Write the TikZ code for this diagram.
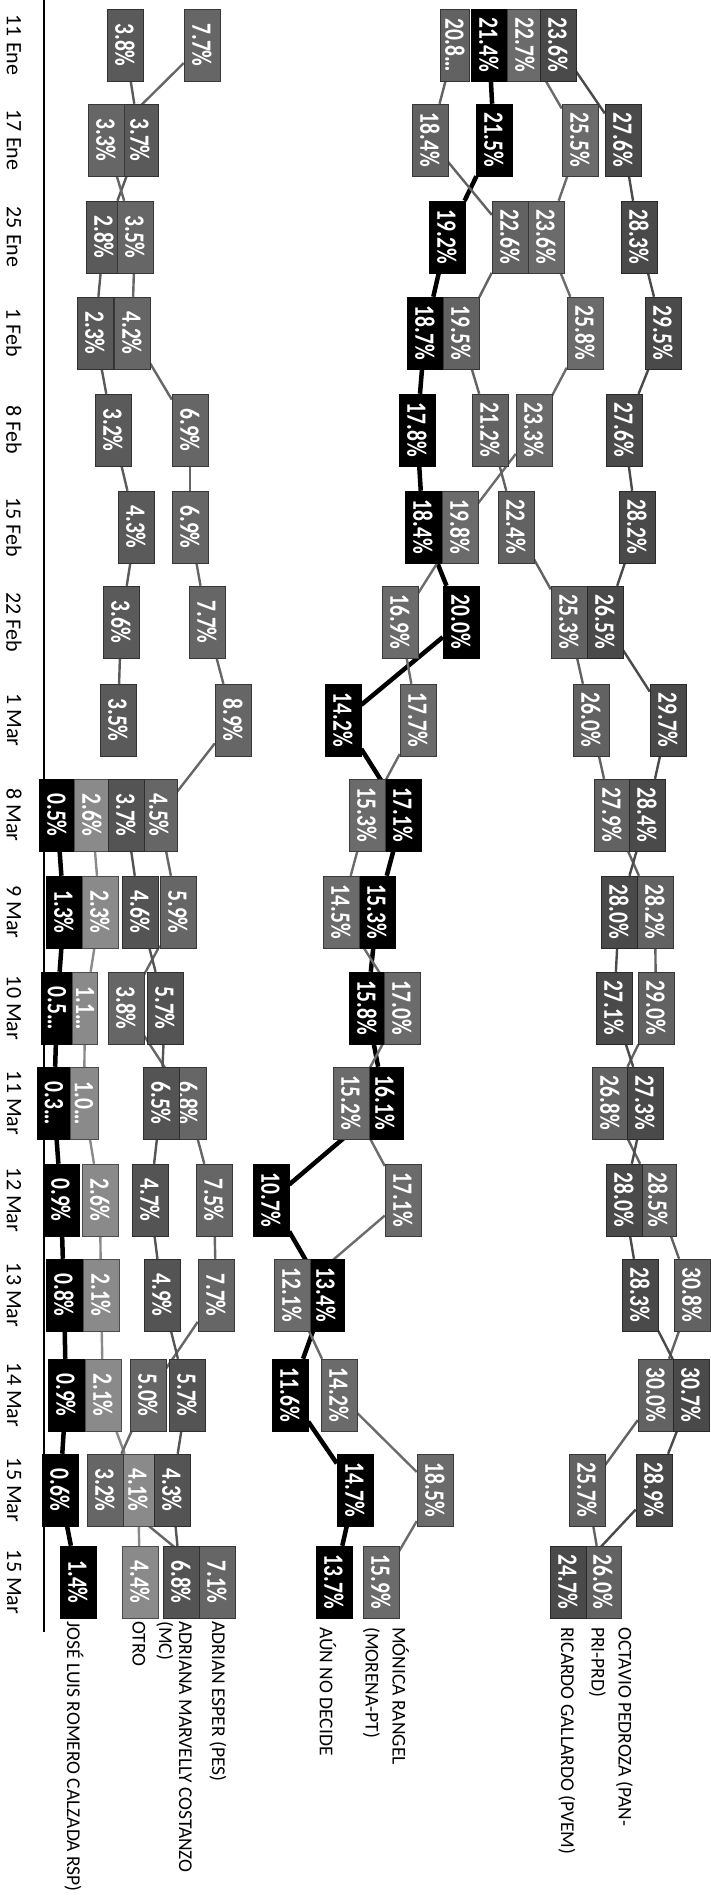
\documentclass[tikz,border=0pt]{standalone}
\usepackage{fontspec}
\setmainfont{Carlito}
\usepackage{graphicx}
\usepackage{tikz}

\pgfdeclarelayer{bg}
\pgfsetlayers{bg,main}

\definecolor{earc}{HTML}{5A5A5A}
\definecolor{adrc}{HTML}{666666}
\definecolor{amac}{HTML}{545454}
\definecolor{otrc}{HTML}{8A8A8A}
\definecolor{monc}{HTML}{6B6B6B}
\definecolor{octc}{HTML}{626262}
\definecolor{ricc}{HTML}{4A4A4A}

\def\rowy{{45,140,237,333,430,527,622,720,815,912,1008,1103,1200,1295,1395,1490,1582}}
\newcommand\tall[1]{\scalebox{1}[1.3]{#1}}

\tikzset{
  valbox/.style={rotate=-90, minimum width=72pt, inner sep=0pt, fill=#1, draw=#1!55!black,
    line width=0.5pt, text=white, font={\fontsize{21.5}{24}\selectfont\bfseries}},
  datelbl/.style={rotate=-90, inner sep=0pt, font={\fontsize{22}{26}\selectfont}},
  namelbl/.style={rotate=-90, anchor=west, inner sep=0pt, align=left, font={\fontsize{19.5}{27}\selectfont}}
}

\begin{document}
\begin{tikzpicture}[x=1pt, y=-1pt]
\useasboundingbox (0,0) rectangle (710,1898);

% time axis
\draw[line width=1.2pt] (44,0) -- (44,1632);

% dates
\foreach \d [count=\k from 0] in {11 Ene,17 Ene,25 Ene,1 Feb,8 Feb,15 Feb,22 Feb,1 Mar,8 Mar,9 Mar,10 Mar,11 Mar,12 Mar,13 Mar,14 Mar,15 Mar,15 Mar} {
  \pgfmathsetmacro\yy{\rowy[\k]}
  \node[datelbl] (date-\k) at (14,\yy) {\d};
}

% series: name / colour / line width / row/x/value/box width
\foreach \s/\c/\lw/\pts in {
  earl/earc/2.4/{0/125/3.8/36, 1/140/3.7/36, 2/104/2.8/36, 3/95/2.3/36, 4/113/3.2/36, 5/136/4.3/36, 6/121/3.6/36, 7/118/3.5/36},
  jlr/black/4.5/{8/57/0.5/36, 9/64/1.3/36, 10/57/0.5…/31, 11/54/0.3…/33, 12/61/0.9/36, 13/64/0.8/36, 14/66/0.9/36, 15/60/0.6/36, 16/78/1.4/36},
  otr/otrc/2.4/{8/92/2.6/36, 9/100/2.3/36, 10/85/1.1…/25, 11/84/1.0…/28, 12/100/2.6/36, 13/101/2.1/36, 14/103/2.1/36, 15/138/4.1/36, 16/140/4.4/36},
  adr/adrc/2.4/{0/202/7.7/36, 1/106/3.3/36, 2/135/3.5/36, 3/132/4.2/36, 4/190/6.9/36, 5/190/6.9/36, 6/207/7.7/36, 7/233/8.9/36, 8/159/4.5/36, 9/178/5.9/36, 10/126/3.8/36, 11/188/6.8/36, 12/214/7.5/36, 13/216/7.7/36, 14/148/5.0/36, 15/105/3.2/36, 16/217/7.1/36},
  ama/amac/2.4/{8/126/3.7/36, 9/140/4.6/36, 10/165/5.7/36, 11/161/6.5/36, 12/150/4.7/36, 13/162/4.9/36, 14/187/5.7/36, 15/172/4.3/36, 16/181/6.8/36},
  und/black/4.5/{0/489/21.4/36, 1/494/21.5/36, 2/447/19.2/36, 3/425/18.7/36, 4/417/17.8/36, 5/423/18.4/36, 6/461/20.0/36, 7/343/14.2/36, 8/403/17.1/36, 9/377/15.3/36, 10/367/15.8/36, 11/385/16.1/36, 12/271/10.7/36, 13/326/13.4/36, 14/290/11.6/36, 15/355/14.7/36, 16/334/13.7/36},
  mon/monc/2.4/{0/525/22.7/36, 1/580/25.5/36, 2/546/23.6/36, 3/585/25.8/36, 4/534/23.3/36, 5/460/19.8/36, 6/400/16.9/36, 7/418/17.7/36, 8/367/15.3/36, 9/341/14.5/36, 10/402/17.0/36, 11/351/15.2/36, 12/403/17.1/36, 13/292/12.1/36, 14/339/14.2/36, 15/435/18.5/36, 16/381/15.9/36},
  oct/octc/2.4/{0/455/20.8…/29, 1/430/18.4/36, 2/510/22.6/36, 3/461/19.5/36, 4/490/21.2/36, 5/516/22.4/36, 6/569/25.3/36, 7/591/26.0/36, 8/612/27.9/36, 9/655/28.2/36, 10/656/29.0/36, 11/610/26.8/36, 12/658/28.5/36, 13/692/30.8/36, 14/656/30.0/36, 15/587/25.7/36, 16/603/26.0/36},
  ric/ricc/2.4/{0/558/23.6/36, 1/623/27.6/36, 2/639/28.3/36, 3/663/29.5/36, 4/624/27.6/36, 5/637/28.2/36, 6/605/26.5/36, 7/668/29.7/36, 8/647/28.4/36, 9/619/28.0/36, 10/614/27.1/36, 11/645/27.3/36, 12/624/28.0/36, 13/640/28.3/36, 14/691/30.7/36, 15/654/28.9/36, 16/568/24.7/36}} {
  \foreach \i/\x/\v/\h [remember=\i as \j (initially -1)] in \pts {
    \pgfmathsetmacro\yy{\rowy[\i]}
    \node[valbox=\c, minimum height=\h pt] (\s-\i) at (\x,\yy) {\tall{\v\ifnum\h>34 \%\fi}};
    \ifnum\j>-1
      \begin{pgfonlayer}{bg}
        \draw[draw=\c, line width=\lw pt] (\s-\j) -- (\s-\i);
      \end{pgfonlayer}
    \fi
  }
}

% candidate names
\node[namelbl] (lbl-oct) at (611,1627) {OCTAVIO PEDROZA (PAN-\\PRI-PRD)};
\node[namelbl] (lbl-ric) at (567,1627) {RICARDO GALLARDO (PVEM)};
\node[namelbl] (lbl-mon) at (386,1627) {MÓNICA RANGEL\\(MORENA-PT)};
\node[namelbl] (lbl-und) at (328,1627) {AÚN NO DECIDE};
\node[namelbl] (lbl-adr) at (218,1621) {ADRIAN ESPER (PES)};
\node[namelbl] (lbl-ama) at (174,1621) {ADRIANA MARVELLY COSTANZO\\[-7pt](MC)};
\node[namelbl] (lbl-otr) at (139,1621) {OTRO};
\node[namelbl] (lbl-jlr) at (74,1621) {JOSÉ LUIS ROMERO CALZADA RSP)};
\end{tikzpicture}
\end{document}
